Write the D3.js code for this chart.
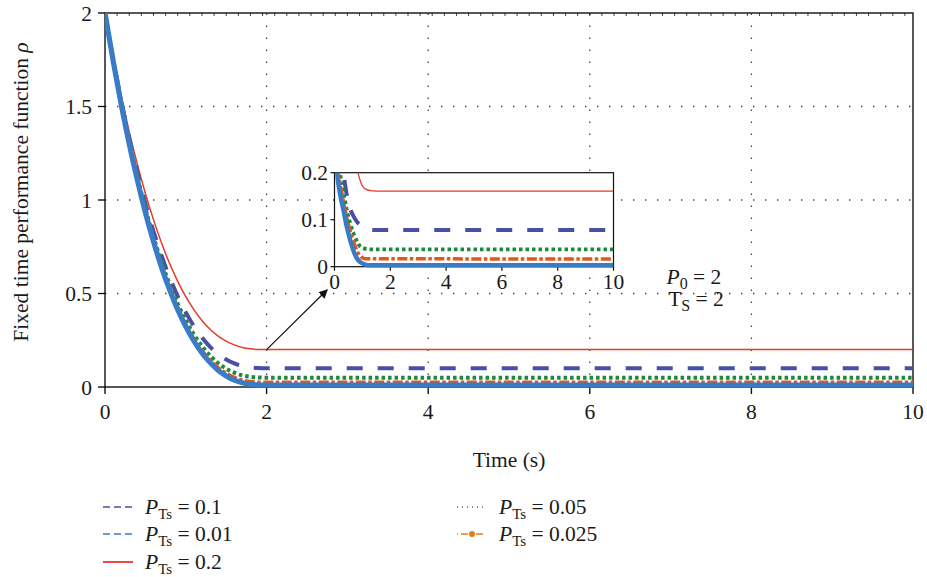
<!DOCTYPE html>
<html>
<head>
<meta charset="utf-8">
<script src="https://cdn.jsdelivr.net/npm/d3@7"></script>
<style>
  html, body { margin: 0; padding: 0; background: #fff; }
  svg { display: block; font-family: "Liberation Serif", "Times New Roman", serif; }
</style>
</head>
<body>
<svg id="chart" width="927" height="577"></svg>
<script>
// ---- data -------------------------------------------------------------
const timeMain = [0, 0.1, 0.2, 0.3, 0.4, 0.5, 0.6, 0.7, 0.8, 0.9, 1.0,
                  1.1, 1.2, 1.3, 1.4, 1.5, 1.6, 1.7, 1.8, 1.9, 2.0, 10];
const rhoP02   = [2.0, 1.770, 1.559, 1.366, 1.192, 1.035, 0.895, 0.770, 0.660, 0.565, 0.483,
                  0.414, 0.356, 0.309, 0.272, 0.245, 0.225, 0.211, 0.204, 0.201, 0.2, 0.2];
const rhoP01   = [2.0, 1.757, 1.534, 1.331, 1.147, 0.981, 0.833, 0.702, 0.586, 0.485, 0.399,
                  0.325, 0.265, 0.215, 0.176, 0.147, 0.126, 0.112, 0.104, 0.101, 0.1, 0.1];
const rhoP005  = [2.0, 1.750, 1.522, 1.314, 1.125, 0.955, 0.803, 0.667, 0.549, 0.445, 0.356,
                  0.281, 0.219, 0.168, 0.128, 0.098, 0.077, 0.062, 0.054, 0.051, 0.05, 0.05];
const rhoP0025 = [2.0, 1.747, 1.516, 1.305, 1.113, 0.941, 0.787, 0.650, 0.530, 0.425, 0.335,
                  0.259, 0.196, 0.145, 0.104, 0.074, 0.052, 0.037, 0.029, 0.026, 0.025, 0.025];
const rhoP001  = [2.0, 1.745, 1.512, 1.300, 1.107, 0.933, 0.778, 0.640, 0.519, 0.413, 0.323,
                  0.246, 0.182, 0.131, 0.090, 0.059, 0.037, 0.023, 0.014, 0.011, 0.01, 0.01];

// zoomed panel
const zoomTimeP02   = [0.70, 0.84, 0.98, 1.12, 1.28, 1.5, 10];
const zoomRhoP02    = [0.24, 0.200, 0.174, 0.165, 0.162, 0.161, 0.161];
const zoomTimeP01   = [0.22, 0.32, 0.41, 0.50, 0.65, 0.80, 0.98, 1.16, 1.4, 10];
const zoomRhoP01    = [0.25, 0.199, 0.163, 0.135, 0.111, 0.096, 0.086, 0.080, 0.078, 0.078];
const zoomTimeP005  = [0.12, 0.20, 0.32, 0.44, 0.56, 0.68, 0.80, 0.92, 1.06, 1.2, 10];
const zoomRhoP005   = [0.25, 0.200, 0.158, 0.121, 0.093, 0.071, 0.055, 0.043, 0.039, 0.037, 0.037];
const zoomTimeP0025 = [0.08, 0.14, 0.26, 0.38, 0.50, 0.62, 0.74, 0.86, 0.98, 1.1, 10];
const zoomRhoP0025  = [0.25, 0.200, 0.158, 0.121, 0.090, 0.064, 0.044, 0.028, 0.020, 0.017, 0.0164];
const zoomTimeP001  = [0.05, 0.10, 0.20, 0.32, 0.44, 0.56, 0.68, 0.80, 0.92, 1.04, 1.2, 10];
const zoomRhoP001   = [0.26, 0.200, 0.155, 0.121, 0.085, 0.057, 0.034, 0.018, 0.010, 0.006, 0.003, 0.003];

const xTicksMain = [0, 2, 4, 6, 8, 10];
const yTicksMain = [0, 0.5, 1, 1.5, 2];
const yTickLabelsMain = ["0", "0.5", "1", "1.5", "2"];
const xTicksZoom = [0, 2, 4, 6, 8, 10];
const yTicksZoom = [0, 0.1, 0.2];
const yTickLabelsZoom = ["0", "0.1", "0.2"];

// ---- styles -----------------------------------------------------------
const C = {
  navy: "#4a4fa6", blue: "#3a7bc8", red: "#e53a2c",
  green: "#1b8a3c", orange: "#e0571b", legendOrange: "#e27d14"
};
const styles = {
  "0.2":   { color: C.red,    width: 1.5, dash: null },
  "0.1":   { color: C.navy,   width: 4,   dash: "16,15" },
  "0.05":  { color: C.green,  width: 4,   dash: "3.5,3" },
  "0.025": { color: C.orange, width: 3.5, dash: "10,2.5,3.5,2.5" },
  "0.01":  { color: C.blue,   width: 5.2, dash: null }
};

const svg = d3.select("#chart");
const FONT = 21.5;

// ---- main panel -------------------------------------------------------
const x = d3.scaleLinear().domain([0, 10]).range([105, 913]);
const y = d3.scaleLinear().domain([0, 2]).range([387, 13]);

svg.append("defs").append("clipPath").attr("id", "clipMain")
  .append("rect").attr("x", x(0)).attr("y", y(2))
  .attr("width", x(10) - x(0)).attr("height", y(0) - y(2) + 2);

// dotted grid
const grid = svg.append("g").attr("stroke", "#444").attr("stroke-width", 1.3)
  .attr("stroke-dasharray", "1.4,10.6");
[2, 4, 6, 8].forEach(t => grid.append("line")
  .attr("x1", x(t)).attr("x2", x(t)).attr("y1", y(0)).attr("y2", y(2)));
[0.5, 1, 1.5].forEach(v => grid.append("line")
  .attr("x1", x(0)).attr("x2", x(10)).attr("y1", y(v)).attr("y2", y(v)));

// frame and axes (drawn under the curves, like the source plot)
const axG = svg.append("g").attr("stroke", "#111").attr("fill", "none");
axG.append("rect").attr("x", x(0)).attr("y", y(2))
  .attr("width", x(10) - x(0)).attr("height", y(0) - y(2)).attr("stroke-width", 1.4);
d3.range(0.15, 10, 0.15).forEach(t => axG.append("line")
  .attr("x1", x(t)).attr("x2", x(t)).attr("y1", y(2)).attr("y2", y(2) + 3).attr("stroke-width", 0.8));
xTicksMain.forEach(t => axG.append("line")
  .attr("x1", x(t)).attr("x2", x(t)).attr("y1", y(0)).attr("y2", y(0) + 7).attr("stroke-width", 1.4));
yTicksMain.forEach(v => axG.append("line")
  .attr("x1", x(0) - 7).attr("x2", x(0)).attr("y1", y(v)).attr("y2", y(v)).attr("stroke-width", 1.4));

// curves
const lineMain = d3.line().curve(d3.curveMonotoneX)
  .x(d => x(d[0])).y(d => y(d[1]));
const mainSeries = [
  ["0.2", rhoP02], ["0.1", rhoP01], ["0.05", rhoP005], ["0.025", rhoP0025], ["0.01", rhoP001]
];
const gCurves = svg.append("g").attr("clip-path", "url(#clipMain)");
mainSeries.forEach(([k, vals]) => {
  const s = styles[k];
  gCurves.append("path")
    .datum(timeMain.map((t, i) => [t, vals[i]]))
    .attr("d", lineMain).attr("fill", "none")
    .attr("stroke", s.color).attr("stroke-width", s.width)
    .attr("stroke-dasharray", s.dash);
});

const txt = svg.append("g").attr("fill", "#1a1a1a").attr("font-size", FONT);
xTicksMain.forEach(t => txt.append("text")
  .attr("x", x(t)).attr("y", 419).attr("text-anchor", "middle").text(t));
yTicksMain.forEach((v, i) => txt.append("text")
  .attr("x", 92).attr("y", y(v) + 7.5).attr("text-anchor", "end").text(yTickLabelsMain[i]));

txt.append("text").attr("x", (x(0) + x(10)) / 2).attr("y", 467)
  .attr("text-anchor", "middle").text("Time (s)");
const yTitle = txt.append("text")
  .attr("transform", `translate(28,${(y(0) + y(2)) / 2 - 8}) rotate(-90)`)
  .attr("text-anchor", "middle");
yTitle.append("tspan").text("Fixed time performance function ");
yTitle.append("tspan").attr("font-style", "italic").text("ρ");

// parameter note
const note1 = txt.append("text").attr("x", x(6.95)).attr("y", y(0.553));
note1.append("tspan").attr("font-style", "italic").text("P");
note1.append("tspan").attr("font-size", 16).attr("dy", 5).text("0");
note1.append("tspan").attr("dy", -5).text(" = 2");
const note2 = txt.append("text").attr("x", x(6.97)).attr("y", y(0.435));
note2.append("tspan").text("T");
note2.append("tspan").attr("font-size", 16).attr("dy", 5).text("S");
note2.append("tspan").attr("dy", -5).text(" = 2");

// ---- zoomed panel -----------------------------------------------------
const xz = d3.scaleLinear().domain([0, 10]).range([334.5, 613.5]);
const yz = d3.scaleLinear().domain([0, 0.2]).range([266.7, 172.7]);

svg.append("rect").attr("x", xz(0)).attr("y", yz(0.2))
  .attr("width", xz(10) - xz(0)).attr("height", yz(0) - yz(0.2)).attr("fill", "#fff");
svg.select("defs").append("clipPath").attr("id", "clipZoom")
  .append("rect").attr("x", xz(0)).attr("y", yz(0.2))
  .attr("width", xz(10) - xz(0)).attr("height", yz(0) - yz(0.2) + 3);

const lineZoom = d3.line().curve(d3.curveMonotoneX)
  .x(d => xz(d[0])).y(d => yz(d[1]));
const zoomSeries = [
  ["0.2", zoomTimeP02, zoomRhoP02], ["0.1", zoomTimeP01, zoomRhoP01],
  ["0.05", zoomTimeP005, zoomRhoP005], ["0.025", zoomTimeP0025, zoomRhoP0025],
  ["0.01", zoomTimeP001, zoomRhoP001]
];
const zoomWidth = { "0.2": 1.3, "0.1": 4, "0.05": 3.8, "0.025": 3.5, "0.01": 4.5 };

const axZ = svg.append("g").attr("stroke", "#111").attr("fill", "none");
axZ.append("rect").attr("x", xz(0)).attr("y", yz(0.2))
  .attr("width", xz(10) - xz(0)).attr("height", yz(0) - yz(0.2)).attr("stroke-width", 1.2);
xTicksZoom.forEach(t => axZ.append("line")
  .attr("x1", xz(t)).attr("x2", xz(t)).attr("y1", yz(0)).attr("y2", yz(0) + 4).attr("stroke-width", 1.2));
yTicksZoom.forEach(v => axZ.append("line")
  .attr("x1", xz(0) - 4).attr("x2", xz(0)).attr("y1", yz(v)).attr("y2", yz(v)).attr("stroke-width", 1.2));

const gZoom = svg.append("g").attr("clip-path", "url(#clipZoom)");
zoomSeries.forEach(([k, ts, vs]) => {
  const s = styles[k];
  gZoom.append("path")
    .datum(ts.map((t, i) => [t, vs[i]]))
    .attr("d", lineZoom).attr("fill", "none")
    .attr("stroke", s.color).attr("stroke-width", zoomWidth[k])
    .attr("stroke-dasharray", s.dash);
});

xTicksZoom.forEach(t => txt.append("text")
  .attr("x", xz(t)).attr("y", 289).attr("text-anchor", "middle").text(t));
yTicksZoom.forEach((v, i) => txt.append("text")
  .attr("x", 328).attr("y", yz(v) + 7.5).attr("text-anchor", "end").text(yTickLabelsZoom[i]));
txt.append("text").attr("x", xz(5.6)).attr("y", yz(0.115)).attr("text-anchor", "middle").text("Zoom");

// arrow from the main curves to the zoomed panel
svg.select("defs").append("marker").attr("id", "arrowHead")
  .attr("viewBox", "0 0 10 10").attr("refX", 9).attr("refY", 5)
  .attr("markerWidth", 9).attr("markerHeight", 9).attr("orient", "auto")
  .attr("markerUnits", "userSpaceOnUse")
  .append("path").attr("d", "M0,0 L10,5 L0,10 Z").attr("fill", "#111");
svg.append("line")
  .attr("x1", x(2)).attr("y1", y(0.2)).attr("x2", x(2.75)).attr("y2", y(0.52))
  .attr("stroke", "#111").attr("stroke-width", 1.2).attr("marker-end", "url(#arrowHead)");

// ---- legend -----------------------------------------------------------
const legendItems = [
  { key: "0.1",   col: 0, row: 0, color: C.navy,   dash: "7,4",  width: 1.6 },
  { key: "0.01",  col: 0, row: 1, color: C.blue,   dash: "7,4",  width: 1.6 },
  { key: "0.2",   col: 0, row: 2, color: C.red,    dash: null,   width: 1.8 },
  { key: "0.05",  col: 1, row: 0, color: C.green,  dash: "1,4",  width: 1.3 },
  { key: "0.025", col: 1, row: 1, color: C.legendOrange, dash: "1,3,7,4", width: 1.6, marker: true }
];
const colX = [103, 457];
const rowY = [507, 534, 562];
const lg = svg.append("g");
legendItems.forEach(it => {
  const x0 = colX[it.col], yy = rowY[it.row];
  lg.append("line").attr("x1", x0).attr("x2", x0 + 30).attr("y1", yy).attr("y2", yy)
    .attr("stroke", it.color).attr("stroke-width", it.width)
    .attr("stroke-dasharray", it.dash);
  if (it.marker) lg.append("circle").attr("cx", x0 + 15).attr("cy", yy).attr("r", 3).attr("fill", it.color);
  const t = lg.append("text").attr("x", x0 + 42).attr("y", yy + 6.5)
    .attr("font-size", FONT).attr("fill", "#1a1a1a");
  t.append("tspan").attr("font-style", "italic").text("P");
  t.append("tspan").attr("font-size", 15).attr("dy", 5).text("Ts");
  t.append("tspan").attr("dy", -5).text(" = " + it.key);
});
</script>
</body>
</html>
